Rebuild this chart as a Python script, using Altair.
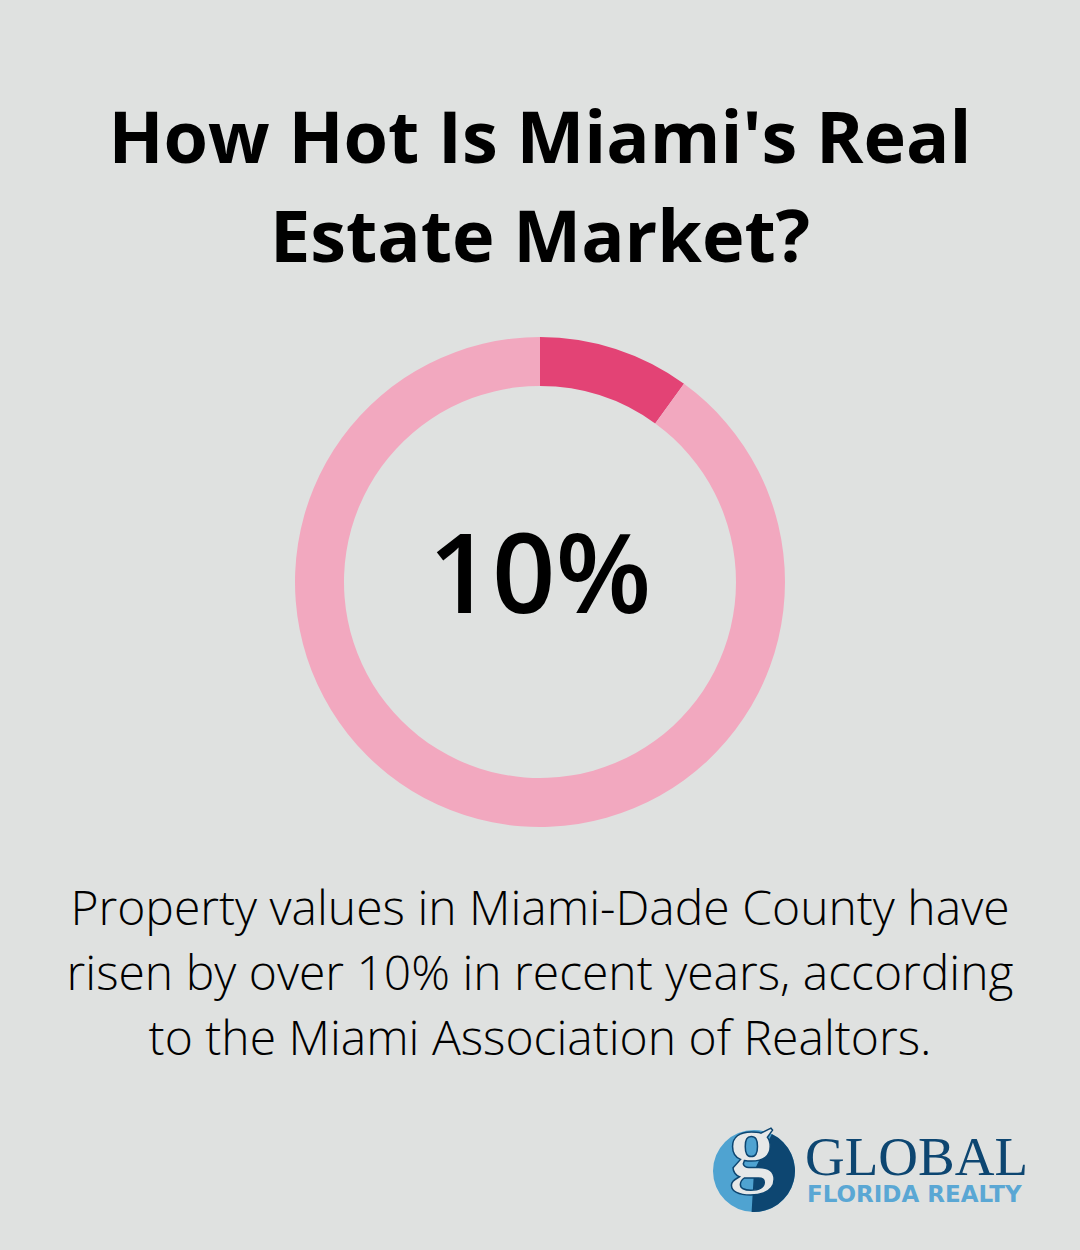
import math
import altair as alt
import pandas as pd

# Share of the ring that is highlighted
categories = ["Rise", "Rest"]
values = [10, 90]
ring_colors = ["#e34375", "#f2a8bf"]

title_lines = ["How Hot Is Miami's Real", "Estate Market?"]
center_label = "10%"
body_lines = [
    "Property values in Miami-Dade County have",
    "risen by over 10% in recent years, according",
    "to the Miami Association of Realtors.",
]
brand_name = "GLOBAL"
brand_sub = "FLORIDA REALTY"

BG = "#dfe1e0"
NAVY = "#0d4671"
SKY = "#4fa3d1"

ring_df = pd.DataFrame({"cat": categories, "val": values, "ord": [0, 1]})

ring = alt.Chart(ring_df).mark_arc(outerRadius=245, innerRadius=196).encode(
    theta=alt.Theta("val:Q", stack=True),
    order=alt.Order("ord:Q"),
    color=alt.Color("cat:N", scale=alt.Scale(domain=categories, range=ring_colors), legend=None),
    x=alt.value(540),
    y=alt.value(582),
)


def text_lines(lines, y0, step, size, weight, color="#000000", font="Open Sans", x=540, align="center"):
    layers = []
    for i, line in enumerate(lines):
        layers.append(
            alt.Chart(pd.DataFrame({"t": [line]})).mark_text(
                font=font, fontSize=size, fontWeight=weight, color=color,
                align=align, baseline="alphabetic",
            ).encode(text="t:N", x=alt.value(x), y=alt.value(y0 + i * step))
        )
    return layers


title = text_lines(title_lines, 163, 99, 72, "bold")
center = text_lines([center_label], 613, 0, 111, 600)
body = text_lines(body_lines, 925, 65, 48, 300)

# Brand mark
one = pd.DataFrame({"v": [1]})
logo_circle = alt.Chart(one).mark_arc(
    outerRadius=41, color=SKY, theta=0, theta2=2 * math.pi
).encode(x=alt.value(754), y=alt.value(1171))
logo_shade = alt.Chart(one).mark_arc(
    outerRadius=41, color=NAVY, theta=0.45, theta2=3.2
).encode(x=alt.value(754), y=alt.value(1171))
logo_g = alt.Chart(pd.DataFrame({"t": ["g"]})).mark_text(
    font="Liberation Serif", fontSize=92, fontWeight="bold", color="#e6e8e8",
    stroke=NAVY, strokeWidth=1.5, align="center", baseline="alphabetic",
).encode(text="t:N", x=alt.value(752), y=alt.value(1176))

brand = text_lines([brand_name], 1175, 0, 55, "normal", color=NAVY, font="Liberation Serif", x=805, align="left")
sub = text_lines([brand_sub], 1202, 0, 23, "bold", color="#5aa7d4", font="DejaVu Sans", x=807, align="left")

chart = alt.layer(
    ring, *title, *center, *body, logo_circle, logo_shade, logo_g, *brand, *sub
).properties(
    width=1080, height=1250, background=BG,
    autosize=alt.AutoSizeParams(type="none"), padding=0,
).configure_view(stroke=None)

chart.save("out.html", embed_options={"renderer": "svg", "actions": False})
